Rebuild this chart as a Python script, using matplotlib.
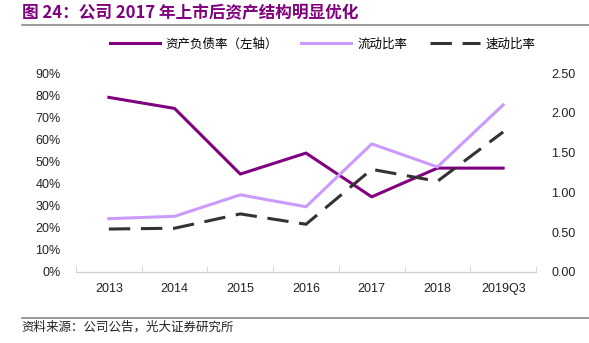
import matplotlib.pyplot as plt
from matplotlib.lines import Line2D
import numpy as np

plt.rcParams['font.family'] = ['Liberation Sans', 'Noto Sans CJK SC', 'DejaVu Sans']

years = ["2013", "2014", "2015", "2016", "2017", "2018", "2019Q3"]
debt_ratio = [79, 74, 44.3, 53.8, 34, 47, 47]          # %, left axis
current_ratio = [0.67, 0.70, 0.97, 0.82, 1.61, 1.32, 2.10]
quick_ratio = [0.54, 0.55, 0.73, 0.60, 1.29, 1.14, 1.76]

c_debt = "#800080"
c_cur = "#CC99FF"
c_quick = "#333333"

fig = plt.figure(figsize=(5.89, 3.43), dpi=100)
ax = fig.add_axes([0.129, 0.207, 0.781, 0.580])
ax2 = ax.twinx()

x = np.arange(len(years))
ax.plot(x, debt_ratio, color=c_debt, lw=2.2, zorder=3)
ax2.plot(x, current_ratio, color=c_cur, lw=2.2)
ax2.plot(x, quick_ratio, color=c_quick, lw=2.2, dashes=(7, 3.5))

ax.set_xlim(-0.5, len(years) - 0.5)
ax.set_ylim(0, 90)
ax2.set_ylim(0, 2.5)
ax.set_yticks(np.arange(0, 91, 10))
ax.set_yticklabels([f"{v}%" for v in range(0, 91, 10)])
ax2.set_yticks(np.arange(0, 2.51, 0.5))
ax2.set_yticklabels([f"{v:.2f}" for v in np.arange(0, 2.51, 0.5)])

ax.set_xticks(x)
ax.set_xticklabels(years)
ax.set_xticks(np.arange(-0.5, len(years)), minor=True)
ax.tick_params(axis='x', which='major', length=0, pad=8, labelsize=9, colors="#222222")
ax.tick_params(axis='x', which='minor', length=4, color="#d0d0d0", direction='in')
ax.tick_params(axis='y', length=0, labelsize=9, colors="#222222", pad=11)
ax2.tick_params(axis='y', length=0, labelsize=9, colors="#222222", pad=11)

for a in (ax, ax2):
    for s in ("top", "left", "right"):
        a.spines[s].set_visible(False)
    a.spines["bottom"].set_color("#d0d0d0")

handles = [
    Line2D([], [], color=c_debt, lw=2.2),
    Line2D([], [], color=c_cur, lw=2.2),
    Line2D([], [], color=c_quick, lw=2.2, dashes=(7, 3.5)),
]
labels = ["资产负债率（左轴）", "流动比率", "速动比率"]
fig.legend(handles, labels, loc="center", bbox_to_anchor=(0.548, 0.87), ncol=3,
           frameon=False, fontsize=9, handlelength=4.0, columnspacing=1.8,
           handletextpad=0.5)

fig.text(0.038, 0.962, "图 24：公司 2017 年上市后资产结构明显优化", color="#800080",
         fontsize=12, fontweight="bold", va="center",
         family=['Noto Sans CJK SC', 'DejaVu Sans'])
fig.add_artist(Line2D([0.037, 1.0], [0.928, 0.928], color="#888888", lw=1.2))
fig.add_artist(Line2D([0.037, 1.0], [0.073, 0.073], color="#888888", lw=1.2))
fig.text(0.037, 0.046, "资料来源：公司公告，光大证券研究所", fontsize=9, va="center",
         color="#222222", family=['Noto Sans CJK SC', 'DejaVu Sans'])

fig.savefig("out.png", dpi=100)
